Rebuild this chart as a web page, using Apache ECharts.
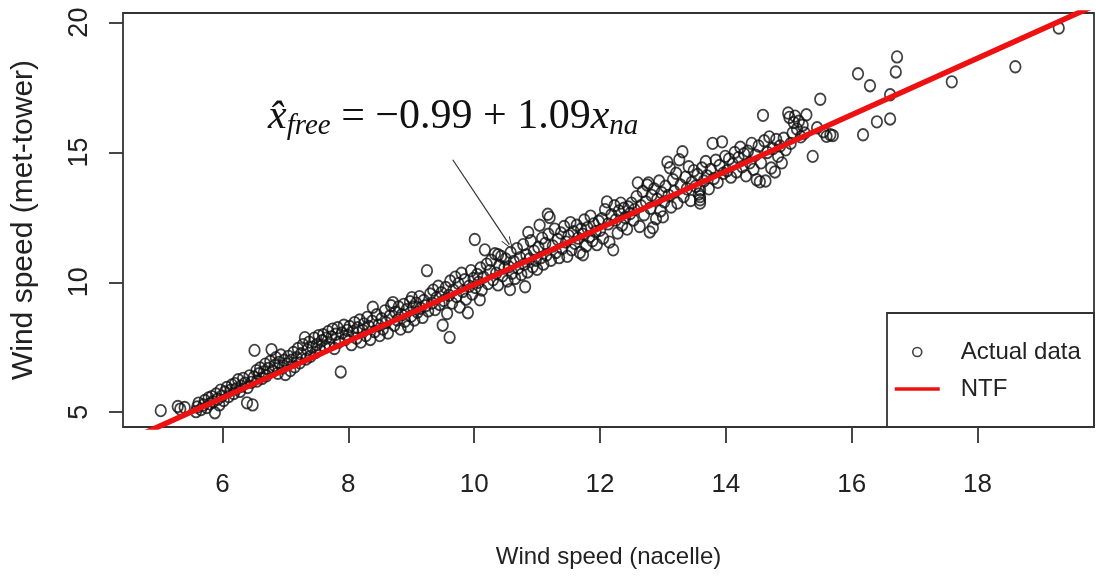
<!DOCTYPE html>
<html>
<head>
<meta charset="utf-8">
<script src="https://cdn.jsdelivr.net/npm/echarts@6/dist/echarts.min.js"></script>
<style>
  html, body { margin: 0; padding: 0; background: #fff; }
  #chart { width: 1096px; height: 577px; }
</style>
</head>
<body>
<div id="chart"></div>
<script>
// Wind speed measured at the nacelle (x) and at the met tower (y)
const nacelleSpeed = [
  5.02, 5.29, 5.40, 5.33,
  5.58, 5.60, 5.62, 5.66, 5.70, 5.72, 5.75, 5.78, 5.80, 5.83, 5.85, 5.88, 5.90, 5.92, 5.95, 5.97, 5.99,
  6.02, 6.04, 6.07, 6.10, 6.13, 6.15, 6.18, 6.20, 6.22, 6.25, 6.28, 6.30, 6.33, 6.36, 6.39, 6.40, 6.43, 6.46, 6.48, 6.50, 6.51, 6.54,
  6.55, 6.58, 6.60, 6.63, 6.66, 6.68, 6.70, 6.73, 6.76, 6.78, 6.80, 6.83, 6.85, 6.88, 6.90, 6.93, 6.95, 6.98,
  7.00, 7.03, 7.05, 7.08, 7.10, 7.13, 7.15, 7.18, 7.20, 7.23, 7.25, 7.28, 7.31, 7.33, 7.35, 7.38, 7.40, 7.43, 7.46, 7.48,
  7.50, 7.53, 7.55, 7.58, 7.60, 7.63, 7.65, 7.68, 7.70, 7.73, 7.75, 7.78, 7.80, 7.83, 7.85, 7.88, 7.90, 7.93, 7.95, 7.98,
  8.00, 8.02, 8.05, 8.08, 8.10, 8.13, 8.15, 8.18, 8.20, 8.23, 8.25, 8.28, 8.30, 8.33, 8.35, 8.38, 8.39, 8.42, 8.45, 8.48,
  8.50, 8.53, 8.55, 8.58, 8.60, 8.63, 8.66, 8.68, 8.71, 8.73, 8.75, 8.78, 8.80, 8.83, 8.85, 8.88, 8.90, 8.93, 8.95, 8.98,
  9.00, 9.01, 9.03, 9.05, 9.08, 9.10, 9.13, 9.15, 9.18, 9.20, 9.23, 9.25, 9.27, 9.30, 9.33, 9.35, 9.38, 9.40, 9.43, 9.45, 9.48, 9.50,
  9.52, 9.55, 9.57, 9.60, 9.61, 9.62, 9.65, 9.67, 9.70, 9.72, 9.75, 9.77, 9.80, 9.82, 9.85, 9.87, 9.90, 9.92, 9.95, 9.97, 9.99,
  10.01, 10.02, 10.05, 10.07, 10.09, 10.10, 10.12, 10.15, 10.17, 10.20, 10.22, 10.25, 10.27, 10.30, 10.33, 10.35, 10.38, 10.38, 10.40, 10.43, 10.45, 10.48,
  10.50, 10.53, 10.55, 10.57, 10.58, 10.60, 10.63, 10.65, 10.68, 10.70, 10.73, 10.75, 10.78, 10.80, 10.81, 10.83, 10.85, 10.86, 10.88, 10.90, 10.93, 10.95, 10.98,
  11.00, 11.02, 11.04, 11.06, 11.08, 11.10, 11.13, 11.15, 11.17, 11.18, 11.20, 11.22, 11.25, 11.28, 11.30, 11.33, 11.35, 11.38, 11.40, 11.43, 11.46, 11.48,
  11.50, 11.53, 11.55, 11.58, 11.60, 11.63, 11.65, 11.68, 11.70, 11.73, 11.73, 11.75, 11.78, 11.80, 11.83, 11.85, 11.88, 11.90, 11.93, 11.95, 11.98,
  12.00, 12.03, 12.05, 12.08, 12.11, 12.13, 12.15, 12.18, 12.21, 12.23, 12.25, 12.28, 12.30, 12.33, 12.35, 12.38, 12.40, 12.43, 12.45, 12.48,
  12.50, 12.53, 12.55, 12.58, 12.60, 12.63, 12.65, 12.68, 12.70, 12.73, 12.75, 12.77, 12.79, 12.80, 12.82, 12.84, 12.86, 12.89, 12.91, 12.94, 12.96, 12.98,
  13.00, 13.02, 13.04, 13.07, 13.09, 13.11, 13.13, 13.16, 13.18, 13.21, 13.23, 13.26, 13.28, 13.31, 13.33, 13.36, 13.38, 13.41, 13.44, 13.46, 13.49,
  13.52, 13.55, 13.57, 13.59, 13.59, 13.59, 13.59, 13.62, 13.65, 13.68, 13.70, 13.73, 13.76, 13.79, 13.81, 13.84, 13.87, 13.90, 13.94, 13.96, 13.99,
  14.02, 14.05, 14.08, 14.11, 14.14, 14.17, 14.20, 14.23, 14.26, 14.29, 14.32, 14.35, 14.38, 14.41, 14.44, 14.47, 14.49,
  14.52, 14.54, 14.56, 14.59, 14.61, 14.63, 14.66, 14.69, 14.72, 14.75, 14.78, 14.80, 14.83, 14.86, 14.89, 14.92, 14.95, 14.99,
  15.01, 15.03, 15.06, 15.08, 15.10, 15.13, 15.16, 15.19, 15.22, 15.25, 15.28, 15.38, 15.45,
  15.50, 15.55, 15.60, 15.66, 15.70,
  16.10, 16.18, 16.29, 16.40, 16.61, 16.61, 16.70, 16.72, 17.59, 18.60, 19.29
];
const towerSpeed = [
  5.06, 5.22, 5.18, 5.12,
  5.02, 5.20, 5.35, 5.10, 5.28, 5.45, 5.18, 5.55, 5.32, 5.60, 5.40, 4.98, 5.70, 5.50, 5.28, 5.85, 5.62,
  5.45, 5.78, 5.95, 5.60, 5.85, 6.05, 5.72, 6.10, 5.90, 6.25, 5.80, 6.00, 6.30, 6.12, 5.36, 5.95, 6.40, 6.15, 5.28, 6.35, 7.38, 6.60,
  6.20, 6.48, 6.70, 6.30, 6.55, 6.85, 6.40, 6.68, 6.95, 7.41, 6.58, 6.80, 7.10, 6.50, 6.92, 7.20, 6.70, 7.00,
  6.45, 6.85, 7.15, 6.60, 7.00, 7.30, 6.75, 7.10, 7.45, 6.90, 7.25, 7.60, 7.87, 7.05, 7.40, 7.70, 7.15, 7.50, 7.85, 7.30,
  7.60, 7.95, 7.40, 7.75, 7.98, 7.50, 7.85, 8.10, 7.60, 7.90, 8.20, 7.45, 8.00, 8.25, 7.70, 6.55, 8.05, 8.35, 7.80, 8.15,
  7.95, 8.30, 7.60, 8.10, 8.45, 7.85, 8.25, 8.55, 7.70, 8.15, 8.40, 7.95, 8.65, 8.30, 7.80, 8.50, 9.04, 8.10, 8.75, 8.35,
  7.95, 8.60, 8.20, 8.90, 8.45, 8.05, 8.70, 9.10, 9.22, 8.35, 8.85, 8.55, 9.05, 8.20, 8.75, 9.15, 8.50, 8.95, 8.30, 9.25,
  8.70, 9.41, 9.05, 8.55, 9.20, 8.85, 9.45, 9.00, 8.65, 9.30, 9.10, 10.45, 8.90, 9.55, 9.20, 9.70, 8.95, 9.40, 9.85, 9.15, 9.60, 8.35,
  9.30, 9.80, 8.80, 9.50, 7.88, 10.05, 9.20, 9.70, 10.20, 9.45, 9.95, 9.05, 10.35, 9.65, 10.10, 9.35, 8.83, 9.85, 10.45, 9.55, 10.15,
  11.65, 9.80, 10.30, 10.00, 9.33, 10.55, 9.70, 10.20, 11.25, 10.70, 9.95, 10.45, 10.85, 10.10, 11.10, 10.35, 9.90, 11.06, 10.65, 11.00, 10.25, 10.55,
  10.90, 10.05, 10.60, 9.72, 11.15, 10.35, 10.80, 10.15, 11.30, 10.55, 10.95, 10.30, 11.45, 10.70, 9.83, 11.05, 10.40, 11.92, 10.90, 11.60, 10.60, 11.20, 10.85,
  10.50, 11.35, 12.20, 10.95, 11.70, 10.70, 11.50, 11.05, 12.62, 11.85, 12.50, 10.85, 11.40, 12.05, 11.15, 11.65, 10.95, 11.90, 11.30, 12.15, 11.55, 11.00,
  11.80, 12.30, 11.25, 11.95, 11.50, 12.20, 11.70, 11.15, 12.05, 11.85, 11.06, 12.40, 11.40, 12.10, 11.75, 12.55, 11.60, 12.25, 11.95, 11.45, 12.35,
  12.00, 12.45, 11.70, 12.80, 13.10, 12.25, 11.55, 12.60, 11.25, 12.95, 12.40, 11.90, 12.75, 13.05, 12.20, 12.85, 12.50, 12.05, 12.90, 12.65,
  13.05, 12.40, 12.80, 13.30, 13.83, 12.15, 12.95, 13.50, 12.60, 13.10, 13.75, 13.83, 11.94, 12.85, 13.35, 12.10, 13.60, 12.45, 13.20, 13.90, 12.75, 13.45,
  12.52, 13.10, 13.70, 14.63, 13.35, 14.41, 12.90, 13.95, 13.50, 14.20, 13.05, 14.72, 13.75, 15.03, 13.30, 14.05, 13.60, 14.45, 13.15, 13.85, 14.30,
  13.70, 14.15, 13.40, 13.55, 13.30, 13.05, 13.18, 14.40, 13.90, 14.65, 14.10, 13.60, 14.35, 15.35, 14.00, 14.70, 13.85, 14.50, 15.41, 14.20, 14.85,
  14.30, 14.75, 14.05, 14.55, 15.00, 14.25, 14.80, 15.20, 14.45, 14.95, 14.10, 15.05, 14.60, 15.35, 14.35, 14.90, 13.95,
  15.25, 13.87, 14.60, 16.43, 15.45, 13.90, 15.00, 15.60, 14.40, 15.15, 14.25, 15.50, 14.85, 15.25, 14.60, 15.55, 15.10, 16.52,
  16.35, 15.35, 15.75, 16.15, 16.40, 15.90, 16.20, 15.60, 16.05, 15.75, 16.45, 14.85, 15.95,
  17.05, 15.80, 15.62, 15.68, 15.65,
  18.03, 15.68, 17.57, 16.18, 16.29, 17.22, 18.10, 18.68, 17.72, 18.30, 19.79
];

// Fitted NTF relation: x_free = -0.99 + 1.09 * x_na
const ntfIntercept = -0.99;
const ntfSlope = 1.09;

// Axis extents and tick positions
const xRange = [4.42, 19.85];
const yRange = [4.43, 20.37];
const xTicks = [6, 8, 10, 12, 14, 16, 18];
const yTicks = [5, 10, 15, 20];

// Annotation arrow pointing from the equation to the fitted line
const arrowFrom = [9.66, 14.72];
const arrowTo = [10.56, 11.45];

const points = nacelleSpeed.map((x, i) => [x, towerSpeed[i]]);
const ntfLine = xRange.map(x => [x, ntfIntercept + ntfSlope * x]);

const axisFont = 'Liberation Sans, Arial, sans-serif';
const mathFont = 'Liberation Serif, serif';
const chart = echarts.init(document.getElementById('chart'), null, { renderer: 'canvas' });

chart.setOption({
  animation: false,
  backgroundColor: '#ffffff',
  textStyle: { fontFamily: axisFont },
  grid: {
    left: 123, top: 13, right: 2, bottom: 150,
    show: true, borderColor: '#333', borderWidth: 1.8, backgroundColor: 'transparent'
  },
  xAxis: {
    type: 'value', min: xRange[0], max: xRange[1],
    name: 'Wind speed (nacelle)', nameLocation: 'middle', nameGap: 118,
    nameTextStyle: { fontSize: 24, color: '#222', fontFamily: axisFont },
    axisLine: { show: false },
    splitLine: { show: false },
    axisTick: { show: true, length: 16, customValues: xTicks, lineStyle: { color: '#333', width: 1.8 } },
    axisLabel: { customValues: xTicks, fontSize: 26, color: '#222', margin: 45, fontFamily: axisFont }
  },
  yAxis: {
    type: 'value', min: yRange[0], max: yRange[1],
    name: 'Wind speed (met-tower)', nameLocation: 'middle', nameGap: 84,
    nameTextStyle: { fontSize: 30, color: '#222', fontFamily: axisFont },
    axisLine: { show: false },
    splitLine: { show: false },
    axisTick: { show: true, length: 14, customValues: yTicks, lineStyle: { color: '#333', width: 1.8 } },
    axisLabel: { customValues: yTicks, rotate: 90, fontSize: 27, color: '#222', margin: 30, fontFamily: axisFont }
  },
  legend: {
    left: 893, top: 338, orient: 'vertical', padding: 0,
    itemWidth: 45, itemHeight: 9, itemGap: 9,
    textStyle: { fontSize: 24, color: '#222', lineHeight: 28, fontFamily: axisFont, padding: [0, 0, 0, 16] },
    data: [
      { name: 'Actual data', icon: 'circle',
        itemStyle: { color: 'rgba(0,0,0,0)', borderColor: '#111', borderWidth: 1.6 } },
      { name: 'NTF', itemStyle: { opacity: 0 }, lineStyle: { width: 3.5, color: '#ee1111' } }
    ]
  },
  graphic: [
    {
      type: 'rect', z: 5,
      shape: { x: 887, y: 313, width: 207, height: 114 },
      style: { fill: 'none', stroke: '#333', lineWidth: 1.8 }
    },
    {
      type: 'text', left: 268, top: 96, z: 5,
      style: {
        text: '{it|x\u0302}{sub|free}{rm| = \u22120.99 + 1.09}{it|x}{sub|na}',
        rich: {
          it: { fontFamily: mathFont, fontStyle: 'italic', fontSize: 42, lineHeight: 48, fill: '#111' },
          rm: { fontFamily: mathFont, fontSize: 42, lineHeight: 48, fill: '#111' },
          sub: { fontFamily: mathFont, fontStyle: 'italic', fontSize: 29, lineHeight: 25, verticalAlign: 'bottom', fill: '#111' }
        }
      }
    }
  ],
  series: [
    {
      type: 'scatter', name: 'Actual data',
      data: points,
      symbol: 'circle', symbolSize: [10.5, 11.5],
      itemStyle: { color: 'rgba(0,0,0,0)', borderColor: '#111', borderWidth: 1.8 },
      emphasis: { disabled: true }
    },
    {
      type: 'line', name: 'NTF',
      data: ntfLine,
      symbol: 'none', clip: true,
      itemStyle: { color: '#ee1111' },
      lineStyle: { color: '#ee1111', width: 5.5 },
      emphasis: { disabled: true },
      markLine: {
        silent: true,
        symbol: ['none', 'path://M5,0 L10,10 L9,10 L5,2 L1,10 L0,10 Z'],
        symbolSize: [10, 14],
        lineStyle: { color: '#333', width: 1.2, type: 'solid' },
        label: { show: false },
        data: [[{ coord: arrowFrom }, { coord: arrowTo }]]
      }
    }
  ]
});
</script>
</body>
</html>
